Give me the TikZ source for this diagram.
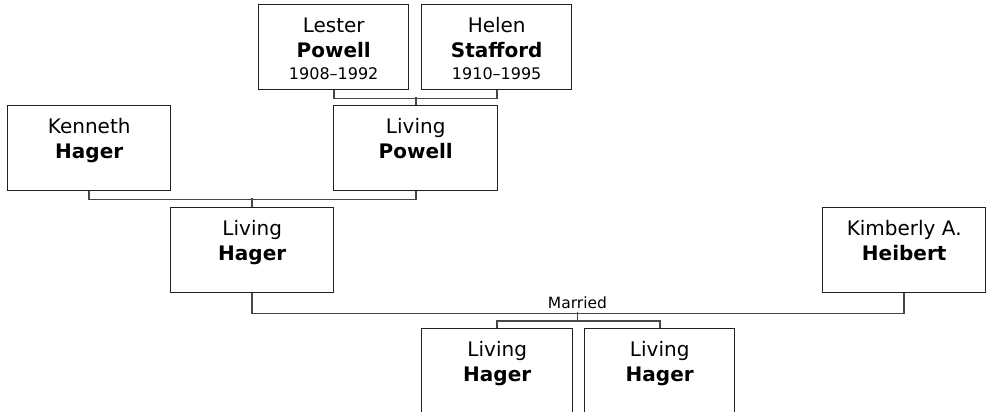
\documentclass[tikz,border=0pt]{standalone}
\usepackage{fontspec}
\setmainfont{DejaVu Sans}
\newcommand{\topstrutx}{\rule{0pt}{16pt}}
\newcommand{\datefontx}{\fontsize{16}{18}\selectfont}
\begin{document}
\begin{tikzpicture}[x=1pt,y=-1pt,
  personbox/.style={draw=black!88, line width=1.4pt, fill=white, inner sep=0pt,
    minimum height=85pt, anchor=north west},
  nametext/.style={inner sep=0pt, align=center, anchor=north,
    font=\fontsize{20}{25}\selectfont, text=black},
  conn/.style={draw=black!72, line width=1.7pt},
  marriedlabel/.style={inner sep=0pt, anchor=base, font=\fontsize{15.5}{18}\selectfont, text=black}]
\clip (0,0) rectangle (988,412);
\useasboundingbox (0,0) rectangle (988,412);

% boxes
\node[personbox, minimum width=150pt] (lester)   at (258,4) {};
\node[personbox, minimum width=150pt] (helen)    at (421,4) {};
\node[personbox, minimum width=163pt] (kenneth)  at (7,105) {};
\node[personbox, minimum width=164pt] (lpowell)  at (333,105) {};
\node[personbox, minimum width=163pt] (lhager)   at (170,207) {};
\node[personbox, minimum width=163pt] (kimberly) at (822,207) {};
\node[personbox, minimum width=151pt] (child1)   at (421,328) {};
\node[personbox, minimum width=150pt] (child2)   at (584,328) {};

% texts
\node[nametext] (lestert) at ([yshift=-12.5pt]lester.north) {\topstrutx Lester\\\textbf{Powell}\\[-3pt]\datefontx 1908–1992};
\node[nametext] (helent) at ([yshift=-12.5pt]helen.north) {\topstrutx Helen\\\textbf{Stafford}\\[-3pt]\datefontx 1910–1995};
\node[nametext] (kennetht) at ([yshift=-12.5pt]kenneth.north) {\topstrutx Kenneth\\\textbf{Hager}};
\node[nametext] (lpowellt) at ([yshift=-12.5pt]lpowell.north) {\topstrutx Living\\\textbf{Powell}};
\node[nametext] (lhagert) at ([yshift=-12.5pt]lhager.north) {\topstrutx Living\\\textbf{Hager}};
\node[nametext] (kimberlyt) at ([yshift=-12.5pt]kimberly.north) {\topstrutx Kimberly A.\\\textbf{Heibert}};
\node[nametext] (child1t) at ([yshift=-12.5pt]child1.north) {\topstrutx Living\\\textbf{Hager}};
\node[nametext] (child2t) at ([yshift=-12.5pt]child2.north) {\topstrutx Living\\\textbf{Hager}};

% connectors
\draw[conn] (lester.south) -- ++(0,8) -| (helen.south);
\draw[conn] (lpowell.north) -- ++(0,-8);
\draw[conn] (kenneth.south) -- ++(0,8) -| (lpowell.south);
\draw[conn] (lhager.north) -- ++(0,-9);
\draw[conn] (lhager.south) -- ++(0,20) -| (kimberly.south);
\coordinate (marmid) at (577.5,312);
\node[marriedlabel] (married) at (577.5,308) {Married};
\draw[conn] (marmid) -- ++(0,9);
\draw[conn] (child1.north) -- ++(0,-7) -| (child2.north);
\end{tikzpicture}
\end{document}
